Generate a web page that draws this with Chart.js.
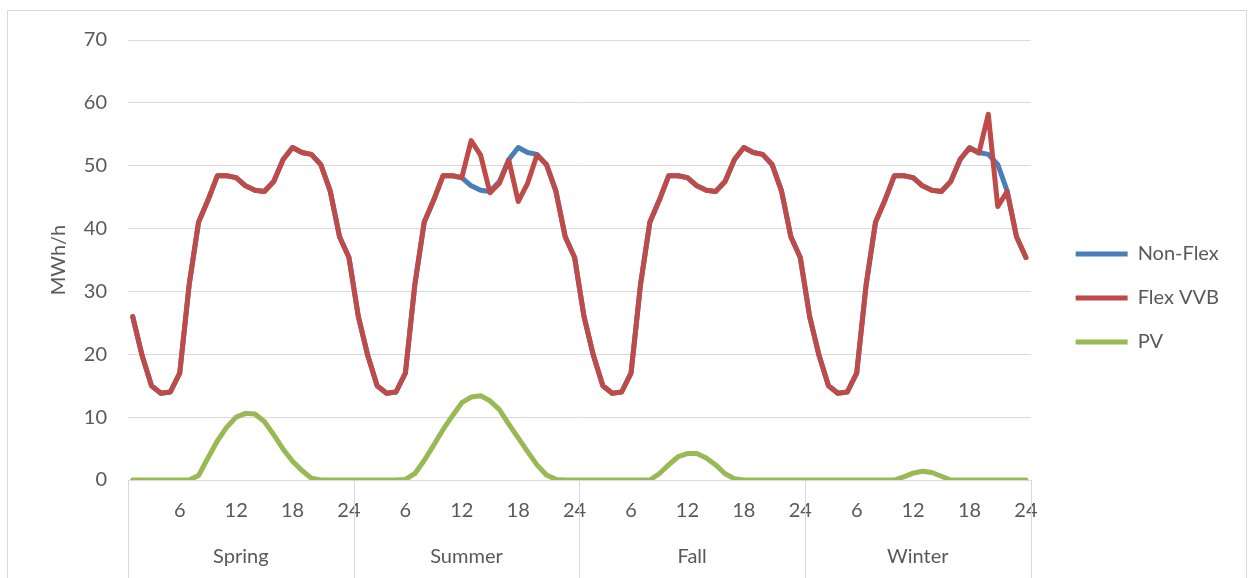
<!DOCTYPE html>
<html>
<head>
<meta charset="utf-8">
<title>Seasonal load profiles</title>
<script src="https://cdn.jsdelivr.net/npm/chart.js@4.4.1/dist/chart.umd.min.js"></script>
<style>
  html, body { margin: 0; padding: 0; background: #fff; }
  #wrap { position: relative; width: 1254px; height: 578px; overflow: hidden; }
  #frame { position: absolute; left: 7px; top: 10px; width: 1238px; height: 580px; border: 1px solid #d9d9d9; }
  #chart { position: absolute; left: 0; top: 0; }
</style>
</head>
<body>
<div id="wrap">
  <div id="frame"></div>
  <canvas id="chart" width="1254" height="578"></canvas>
</div>
<script>
// hourly values per season, MWh/h
const seasons = ["Spring", "Summer", "Fall", "Winter"];
const hours = [1, 2, 3, 4, 5, 6, 7, 8, 9, 10, 11, 12, 13, 14, 15, 16, 17, 18, 19, 20, 21, 22, 23, 24];

const nonFlexSpring = [26.0, 19.8, 15.0, 13.8, 14.0, 17.0, 31.0, 41.0, 44.5, 48.4, 48.4, 48.1, 46.8, 46.1, 45.9, 47.5, 51.0, 52.9, 52.1, 51.8, 50.2, 46.0, 38.7, 35.4];
const nonFlexSummer = [26.0, 19.8, 15.0, 13.8, 14.0, 17.0, 31.0, 41.0, 44.5, 48.4, 48.4, 48.1, 46.8, 46.1, 45.9, 47.5, 51.0, 52.9, 52.1, 51.8, 50.2, 46.0, 38.7, 35.4];
const nonFlexFall   = [26.0, 19.8, 15.0, 13.8, 14.0, 17.0, 31.0, 41.0, 44.5, 48.4, 48.4, 48.1, 46.8, 46.1, 45.9, 47.5, 51.0, 52.9, 52.1, 51.8, 50.2, 46.0, 38.7, 35.4];
const nonFlexWinter = [26.0, 19.8, 15.0, 13.8, 14.0, 17.0, 31.0, 41.0, 44.5, 48.4, 48.4, 48.1, 46.8, 46.1, 45.9, 47.5, 51.0, 52.9, 52.1, 51.8, 50.2, 46.0, 38.7, 35.4];

const flexSpring = [26.0, 19.8, 15.0, 13.8, 14.0, 17.0, 31.0, 41.0, 44.5, 48.4, 48.4, 48.1, 46.8, 46.1, 45.9, 47.5, 51.0, 52.9, 52.1, 51.8, 50.2, 46.0, 38.7, 35.4];
const flexSummer = [26.0, 19.8, 15.0, 13.8, 14.0, 17.0, 31.0, 41.0, 44.5, 48.4, 48.4, 48.1, 54.0, 51.7, 45.7, 47.2, 50.9, 44.3, 47.2, 51.7, 50.2, 46.0, 38.7, 35.4];
const flexFall   = [26.0, 19.8, 15.0, 13.8, 14.0, 17.0, 31.0, 41.0, 44.5, 48.4, 48.4, 48.1, 46.8, 46.1, 45.9, 47.5, 51.0, 52.9, 52.1, 51.8, 50.2, 46.0, 38.7, 35.4];
const flexWinter = [26.0, 19.8, 15.0, 13.8, 14.0, 17.0, 31.0, 41.0, 44.5, 48.4, 48.4, 48.1, 46.8, 46.1, 45.9, 47.5, 51.0, 52.8, 52.0, 58.2, 43.5, 45.9, 38.7, 35.4];

const pvSpring = [0, 0, 0, 0, 0, 0, 0, 0.7, 3.5, 6.2, 8.4, 10.0, 10.6, 10.5, 9.3, 7.2, 4.9, 3.0, 1.5, 0.3, 0, 0, 0, 0];
const pvSummer = [0, 0, 0, 0, 0, 0.1, 1.0, 3.1, 5.5, 8.0, 10.2, 12.3, 13.2, 13.4, 12.6, 11.2, 8.9, 6.7, 4.5, 2.4, 0.8, 0.1, 0, 0];
const pvFall   = [0, 0, 0, 0, 0, 0, 0, 0, 1.0, 2.4, 3.7, 4.2, 4.2, 3.5, 2.4, 1.0, 0.2, 0, 0, 0, 0, 0, 0, 0];
const pvWinter = [0, 0, 0, 0, 0, 0, 0, 0, 0, 0, 0.5, 1.1, 1.4, 1.2, 0.6, 0, 0, 0, 0, 0, 0, 0, 0, 0];

const textColor = "#595959";
const lineGrey = "#d9d9d9";
const FONT = "Lato, 'Open Sans', sans-serif";

Chart.defaults.font.family = FONT;
Chart.defaults.color = textColor;

// one x label per hour, four seasons in a row
const labels = seasons.flatMap(() => hours);

function series(label, color, order, parts) {
  return {
    label: label,
    data: parts.flat(),
    borderColor: color,
    backgroundColor: color,
    borderWidth: 5,
    pointRadius: 0,
    tension: 0,
    borderJoinStyle: "round",
    borderCapStyle: "round",
    order: order
  };
}

// vertical separators between seasons, under the x axis (positions from the season scale)
const seasonDividers = {
  id: "seasonDividers",
  afterDraw(chart) {
    const sx = chart.scales.x2;
    const ctx = chart.ctx;
    ctx.save();
    ctx.strokeStyle = lineGrey;
    ctx.lineWidth = 1;
    for (let i = 0; i <= seasons.length; i++) {
      const px = Math.round(sx.getPixelForValue(i - 0.5)) + 0.5;
      ctx.beginPath();
      ctx.moveTo(px, chart.scales.x.top);
      ctx.lineTo(px, chart.height);
      ctx.stroke();
    }
    ctx.restore();
  }
};

new Chart(document.getElementById("chart"), {
  type: "line",
  data: {
    labels: labels,
    datasets: [
      series("Non-Flex", "#4A7EBB", 2, [nonFlexSpring, nonFlexSummer, nonFlexFall, nonFlexWinter]),
      series("Flex VVB", "#BE4B48", 1, [flexSpring, flexSummer, flexFall, flexWinter]),
      series("PV", "#98B954", 0, [pvSpring, pvSummer, pvFall, pvWinter])
    ]
  },
  options: {
    responsive: false,
    animation: false,
    layout: { padding: { left: 47, right: 25, top: 23, bottom: 5 } },
    scales: {
      y: {
        min: 0,
        max: 70,
        ticks: { stepSize: 10, padding: 21, font: { size: 20 } },
        grid: { color: lineGrey, drawTicks: false },
        border: { display: false },
        title: { display: true, text: "MWh/h", font: { size: 20 }, padding: { top: 0, bottom: 0 } },
        afterFit(scale) { scale.width = 81; }
      },
      gap: {
        type: "linear",
        position: "right",
        grid: { display: false, drawTicks: false, tickLength: 0 },
        border: { display: false },
        ticks: { display: false },
        afterFit(scale) { scale.width = 21; }
      },
      x: {
        offset: true,
        grid: { display: false, drawTicks: false, tickLength: 0 },
        border: { display: true, color: lineGrey },
        ticks: {
          autoSkip: false,
          maxRotation: 0,
          minRotation: 0,
          padding: 18.5,
          font: { size: 20 },
          callback(value, index) {
            const h = hours[index % hours.length];
            return h % 6 === 0 ? String(h) : "";
          }
        }
      },
      x2: {
        type: "category",
        labels: seasons,
        offset: true,
        position: "bottom",
        grid: { display: false, drawTicks: false, tickLength: 0 },
        border: { display: false },
        ticks: { padding: 4, font: { size: 20 } }
      }
    },
    plugins: {
      title: { display: true, text: "", padding: 0, font: { size: 10, lineHeight: 1.7 } },
      tooltip: { enabled: false },
      legend: {
        position: "right",
        labels: {
          usePointStyle: true,
          pointStyle: "line",
          pointStyleWidth: 52,
          padding: 24,
          font: { size: 20 },
          sort: (a, b) => a.datasetIndex - b.datasetIndex
        }
      }
    }
  },
  plugins: [seasonDividers]
});
</script>
</body>
</html>
